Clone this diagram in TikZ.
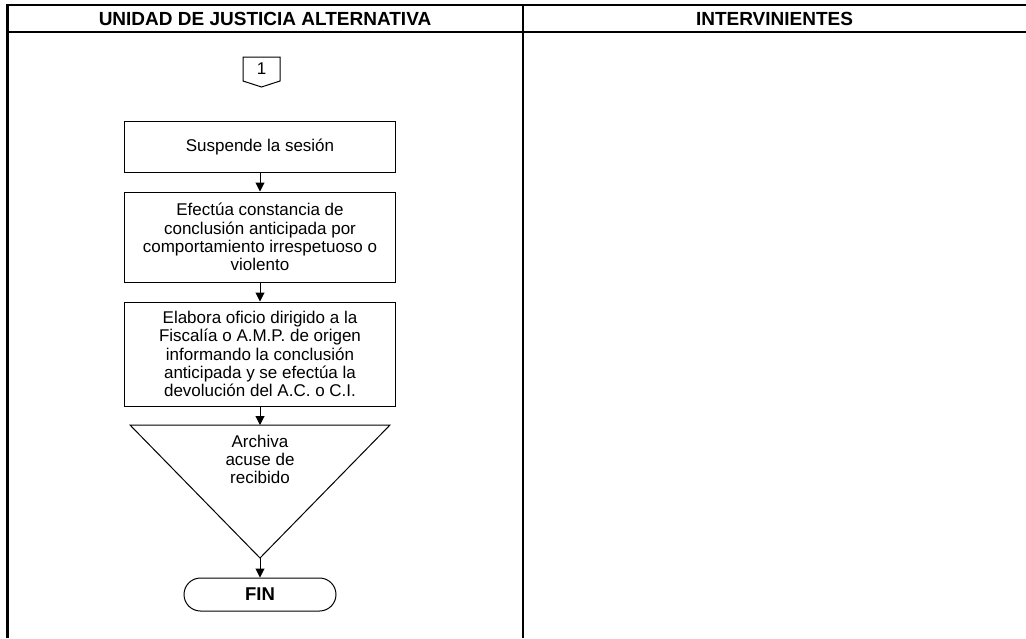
\documentclass[tikz,border=0pt]{standalone}
\usepackage{fontspec}
\setmainfont{Liberation Sans}
\usetikzlibrary{arrows.meta, positioning, calc}
\tikzset{
  lane/.style={line width=2.6pt, line join=miter},
  lanehead/.style={inner sep=0pt, font=\fontsize{19}{21}\selectfont\bfseries},
  proc/.style={rectangle, draw=black, line width=1pt, minimum width=271pt,
               align=center, inner sep=0pt, font=\fontsize{17}{18.2}\selectfont},
  flowtext/.style={align=center, inner sep=0pt, font=\fontsize{17}{18.2}\selectfont},
  shapeline/.style={line width=1pt, line join=miter},
  term/.style={rectangle, rounded corners=16.5pt, draw=black, line width=1pt,
               minimum width=152pt, minimum height=33pt, inner sep=0pt,
               font=\fontsize{18.5}{20}\selectfont\bfseries},
  flowarrow/.style={line width=1pt, -{Triangle[length=9pt, width=9pt]}},
}
\begin{document}
\begin{tikzpicture}[x=1pt, y=-1pt]
    \useasboundingbox (0,0) rectangle (1026,638);
    % Lanes
    \draw[lane] (1026,5) -- (7.5,5) -- (7.5,638);
    \draw[lane] (7.5,32) -- (1026,32);
    \draw[lane] (523,5) -- (523,638);
    \node[lanehead] (hdr1) at (265,18.5) {UNIDAD DE JUSTICIA ALTERNATIVA};
    \node[lanehead] (hdr2) at (774.5,18.5) {INTERVINIENTES};
    % Off-page connector
    \draw[shapeline] (243,57) -- (280,57) -- (280,81) -- (261.5,87) -- (243,81) -- cycle;
    \node[flowtext] (con1) at (261.5,69) {1};
    % Steps
    \node[proc, minimum height=51pt]  (susp)  at (260,146.5) {Suspende la sesión};
    \node[proc, minimum height=90pt]  (const) at (260,237)
      {Efectúa constancia de\\conclusión anticipada por\\comportamiento irrespetuoso o\\violento};
    \node[proc, minimum height=104pt] (ofic)  at (260,354)
      {Elabora oficio dirigido a la\\Fiscalía o A.M.P. de origen\\informando la conclusión\\anticipada y se efectúa la\\devolución del A.C. o C.I.};
    % File (triangle)
    \coordinate (arcL) at (130,425);
    \coordinate (arcR) at (390,425);
    \coordinate (arcT) at (260,425);
    \coordinate (arcP) at (260,558);
    \draw[shapeline] (arcL) -- (arcR) -- (arcP) -- cycle;
    \node[flowtext] (arch) at (260,459.5) {Archiva\\acuse de\\recibido};
    % End
    \node[term] (fin) at (260,594.5) {FIN};
    % Arrows
    \draw[flowarrow] (susp) -- (const);
    \draw[flowarrow] (const) -- (ofic);
    \draw[flowarrow] (ofic) -- (arcT);
    \draw[flowarrow] (arcP) -- (fin);
  \end{tikzpicture}
\end{document}
